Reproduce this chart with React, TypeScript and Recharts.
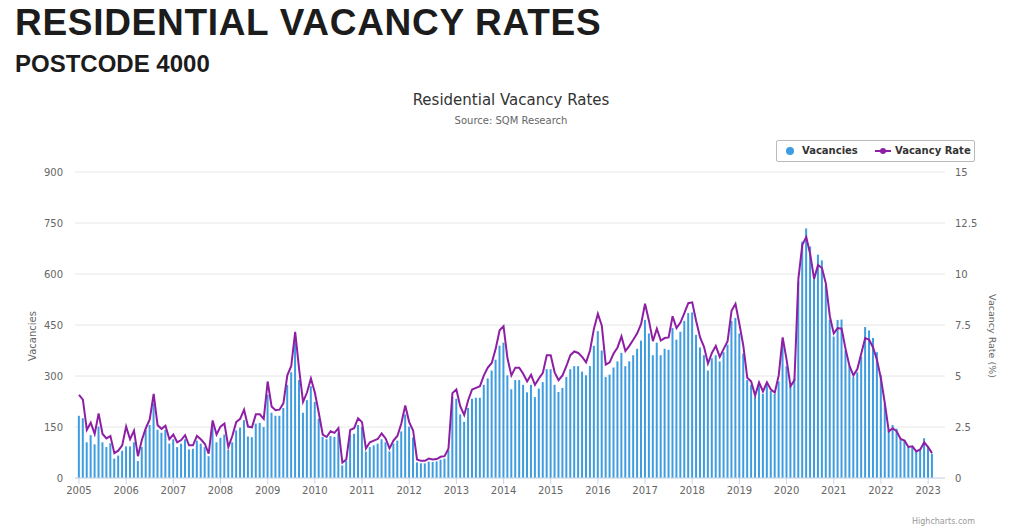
import { ComposedChart, Bar, Line, XAxis, YAxis, CartesianGrid, Legend } from 'recharts';

// Monthly series, Jan 2005 .. Feb 2023 (one row per year)
const START_YEAR = 2005;

const VACANCIES: number[] = [
  183, 176, 105, 126, 99, 151, 105, 91, 102, 57, 66, 80, // 2005
  93, 93, 105, 50, 91, 142, 156, 220, 142, 133, 142, 101, // 2006
  114, 91, 101, 114, 84, 86, 110, 101, 91, 64, 151, 105, // 2007
  118, 128, 82, 105, 140, 148, 170, 122, 120, 160, 162, 150, // 2008
  245, 192, 183, 183, 206, 274, 311, 398, 288, 192, 229, 270, // 2009
  224, 174, 121, 114, 123, 121, 133, 37, 50, 128, 130, 156, // 2010
  150, 78, 91, 96, 101, 114, 105, 78, 101, 110, 137, 187, // 2011
  151, 119, 46, 43, 43, 48, 47, 49, 54, 57, 82, 238, // 2012
  233, 187, 165, 206, 233, 236, 236, 274, 293, 316, 348, 389, // 2013
  398, 302, 261, 288, 288, 274, 252, 274, 238, 263, 282, 320, // 2014
  320, 274, 253, 265, 297, 320, 329, 329, 313, 302, 329, 389, // 2015
  432, 375, 297, 304, 325, 343, 368, 329, 343, 361, 380, 404, // 2016
  465, 425, 361, 398, 361, 380, 377, 441, 407, 430, 462, 485, // 2017
  487, 421, 384, 361, 316, 352, 361, 343, 370, 392, 462, 471, // 2018
  425, 366, 288, 274, 238, 270, 247, 274, 256, 247, 284, 402, // 2019
  329, 274, 293, 576, 695, 734, 681, 595, 657, 640, 567, 466, // 2020
  416, 465, 466, 375, 329, 297, 311, 357, 444, 434, 412, 370, // 2021
  302, 220, 142, 156, 145, 114, 112, 91, 93, 78, 84, 117, // 2022
  93, 71, // 2023
];

const VACANCY_RATE: number[] = [
  4.07, 3.84, 2.36, 2.71, 2.16, 3.17, 2.16, 1.94, 2.06, 1.22, 1.34, 1.6, // 2005
  2.52, 1.9, 2.32, 1.07, 1.86, 2.44, 2.87, 4.12, 2.59, 2.41, 2.56, 1.9, // 2006
  2.13, 1.75, 1.86, 2.1, 1.6, 1.6, 2.06, 1.9, 1.68, 1.19, 2.82, 2.13, // 2007
  2.52, 2.67, 1.52, 2.06, 2.74, 2.9, 3.35, 2.52, 2.48, 3.12, 3.12, 2.9, // 2008
  4.73, 3.51, 3.32, 3.35, 3.66, 5.03, 5.49, 7.16, 5.34, 3.73, 4.19, 4.88, // 2009
  4.19, 3.2, 2.13, 2.01, 2.29, 2.21, 2.44, 0.76, 0.91, 2.36, 2.44, 2.93, // 2010
  2.74, 1.45, 1.75, 1.83, 1.91, 2.18, 1.94, 1.45, 1.83, 2.06, 2.67, 3.55, // 2011
  2.74, 2.33, 0.91, 0.84, 0.84, 0.95, 0.91, 0.93, 1.04, 1.07, 1.45, 4.16, // 2012
  4.34, 3.51, 3.09, 3.81, 4.34, 4.42, 4.5, 5.03, 5.41, 5.64, 6.33, 7.24, // 2013
  7.44, 5.87, 5.03, 5.41, 5.41, 5.11, 4.73, 5.06, 4.57, 4.88, 5.15, 6.02, // 2014
  6.02, 5.18, 4.8, 5.03, 5.49, 6.02, 6.2, 6.13, 5.94, 5.67, 6.25, 7.32, // 2015
  8.05, 7.47, 5.56, 5.67, 6.1, 6.4, 6.94, 6.22, 6.48, 6.78, 7.09, 7.55, // 2016
  8.54, 7.7, 6.71, 7.32, 6.74, 6.86, 6.89, 7.93, 7.35, 7.62, 8.08, 8.57, // 2017
  8.61, 7.7, 6.89, 6.43, 5.61, 6.13, 6.48, 5.94, 6.33, 6.71, 8.2, 8.54, // 2018
  7.55, 6.48, 4.91, 4.73, 4.04, 4.69, 4.24, 4.69, 4.34, 4.19, 5.03, 6.89, // 2019
  5.8, 4.5, 4.8, 9.76, 11.43, 11.81, 10.98, 9.76, 10.44, 10.29, 9.53, 7.93, // 2020
  7.09, 7.35, 7.32, 6.33, 5.49, 5.03, 5.34, 6.1, 6.86, 6.78, 6.4, 5.79, // 2021
  4.88, 3.66, 2.29, 2.44, 2.29, 1.91, 1.83, 1.52, 1.55, 1.3, 1.4, 1.75, // 2022
  1.52, 1.22, // 2023
];

const VACANCY_TICKS = [0, 150, 300, 450, 600, 750, 900];
const RATE_TICKS = [0, 2.5, 5, 7.5, 10, 12.5, 15];

const MONTHS = VACANCIES.map(
  (_, i) => `${START_YEAR + Math.floor(i / 12)}-${String((i % 12) + 1).padStart(2, '0')}`
);

const chartData = MONTHS.map((month, i) => ({
  month,
  vacancies: VACANCIES[i],
  rate: VACANCY_RATE[i],
}));

const BAR_COLOR = '#3d9de0';
const LINE_COLOR = '#8e1fa5';
const FONT = '"DejaVu Sans", sans-serif';

const tickStyle = { fontSize: 10, fill: '#666', fontFamily: FONT };

function LegendBox() {
  return (
    <div
      style={{
        position: 'relative',
        width: 199,
        height: 22,
        border: '1px solid #bbb',
        borderRadius: 2,
        boxSizing: 'border-box',
        background: '#fff',
        fontFamily: FONT,
        fontSize: 10,
        fontWeight: 'bold',
        color: '#333',
      }}
    >
      <span
        style={{
          position: 'absolute',
          left: 9,
          top: 6,
          width: 8,
          height: 8,
          borderRadius: '50%',
          background: BAR_COLOR,
        }}
      />
      <span style={{ position: 'absolute', left: 25, top: 0, lineHeight: '20px' }}>Vacancies</span>
      <span
        style={{ position: 'absolute', left: 98, top: 9, width: 16, height: 2, background: LINE_COLOR }}
      />
      <span
        style={{
          position: 'absolute',
          left: 103,
          top: 7,
          width: 6,
          height: 6,
          borderRadius: '50%',
          background: LINE_COLOR,
        }}
      />
      <span style={{ position: 'absolute', left: 118, top: 0, lineHeight: '20px' }}>Vacancy Rate</span>
    </div>
  );
}

export default function App() {
  return (
    <div
      style={{
        position: 'absolute',
        left: 0,
        top: 0,
        width: 1024,
        height: 532,
        background: '#fff',
        overflow: 'hidden',
      }}
    >
      {/* Page headings */}
      <div
        style={{
          position: 'absolute',
          left: 15,
          top: 4,
          fontFamily: '"Liberation Sans", Arial, sans-serif',
          fontWeight: 900,
          fontSize: 37,
          lineHeight: '37px',
          letterSpacing: 0.7,
          color: '#1c1c1c',
          whiteSpace: 'nowrap',
        }}
      >
        RESIDENTIAL VACANCY RATES
      </div>
      <div
        style={{
          position: 'absolute',
          left: 15,
          top: 52,
          fontFamily: '"Liberation Sans", Arial, sans-serif',
          fontWeight: 900,
          fontSize: 24,
          lineHeight: '24px',
          color: '#1c1c1c',
          whiteSpace: 'nowrap',
        }}
      >
        POSTCODE 4000
      </div>

      {/* Chart title */}
      <div
        style={{
          position: 'absolute',
          left: 0,
          width: 1022,
          top: 93,
          textAlign: 'center',
          fontFamily: FONT,
          fontSize: 15,
          lineHeight: '15px',
          color: '#333',
        }}
      >
        Residential Vacancy Rates
      </div>
      <div
        style={{
          position: 'absolute',
          left: 0,
          width: 1022,
          top: 116,
          textAlign: 'center',
          fontFamily: FONT,
          fontSize: 10,
          lineHeight: '10px',
          color: '#666',
        }}
      >
        Source: SQM Research
      </div>

      <ComposedChart
        width={1024}
        height={532}
        data={chartData}
        margin={{ top: 172, right: 0, bottom: 0, left: 0 }}
        barCategoryGap="22%"
        style={{ position: 'absolute', left: 0, top: 0 }}
      >
        <CartesianGrid yAxisId="left" vertical={false} stroke="#e6e6e6" />
        <XAxis
          dataKey="month"
          interval={11}
          tickFormatter={(v: string) => v.slice(0, 4)}
          tick={tickStyle}
          tickLine={{ stroke: '#ccd6eb' }}
          tickSize={6}
          tickMargin={3}
          axisLine={{ stroke: '#ccd6eb' }}
          height={32}
          padding={{ left: 2, right: 11 }}
        />
        <YAxis
          yAxisId="left"
          orientation="left"
          domain={[0, 900]}
          ticks={VACANCY_TICKS}
          width={75}
          tick={tickStyle}
          tickLine={false}
          axisLine={false}
          tickSize={6}
          tickMargin={6}
        />
        <YAxis
          yAxisId="right"
          orientation="right"
          domain={[0, 15]}
          ticks={RATE_TICKS}
          width={79}
          tick={tickStyle}
          tickLine={false}
          axisLine={false}
          tickSize={6}
          tickMargin={4}
        />
        <Legend
          content={() => <LegendBox />}
          wrapperStyle={{ left: 776, top: 140, width: 199, height: 22, bottom: 'auto', right: 'auto' }}
        />
        <Bar yAxisId="left" dataKey="vacancies" name="Vacancies" fill={BAR_COLOR} isAnimationActive={false} />
        <Line
          yAxisId="right"
          type="linear"
          dataKey="rate"
          name="Vacancy Rate"
          stroke={LINE_COLOR}
          strokeWidth={2}
          dot={false}
          isAnimationActive={false}
        />
      </ComposedChart>

      {/* Axis titles */}
      <div
        style={{
          position: 'absolute',
          left: 32,
          top: 336,
          transform: 'translate(-50%, -50%) rotate(-90deg)',
          fontFamily: FONT,
          fontSize: 10,
          color: '#666',
          whiteSpace: 'nowrap',
        }}
      >
        Vacancies
      </div>
      <div
        style={{
          position: 'absolute',
          left: 992,
          top: 336,
          transform: 'translate(-50%, -50%) rotate(90deg)',
          fontFamily: FONT,
          fontSize: 9.5,
          color: '#666',
          whiteSpace: 'nowrap',
        }}
      >
        Vacancy Rate (%)
      </div>

      <div
        style={{
          position: 'absolute',
          right: 49,
          top: 517,
          fontFamily: FONT,
          fontSize: 8,
          lineHeight: '9px',
          color: '#999',
        }}
      >
        Highcharts.com
      </div>
    </div>
  );
}
